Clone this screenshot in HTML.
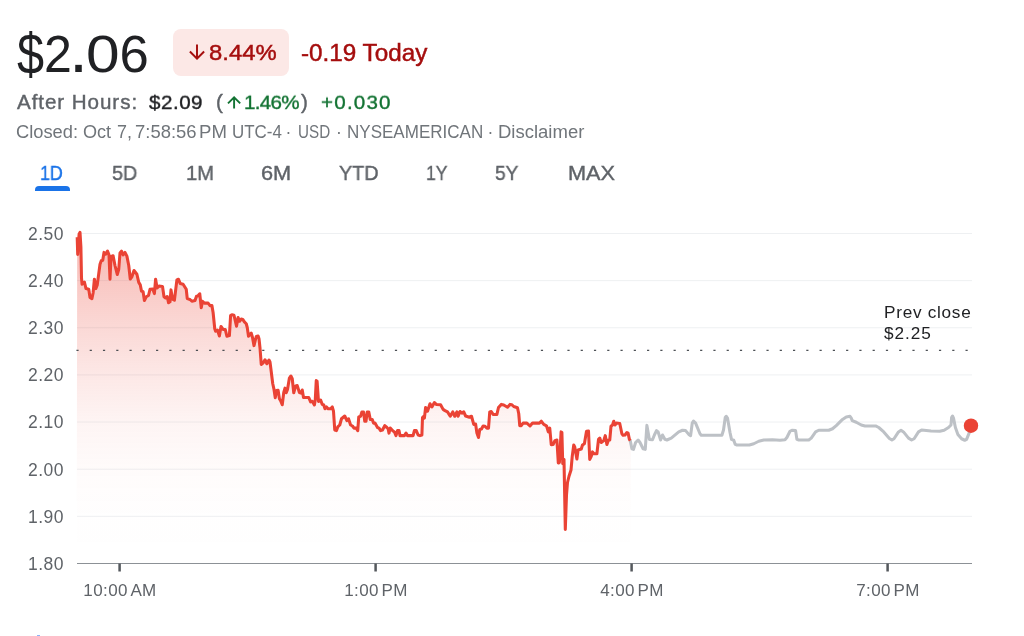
<!DOCTYPE html>
<html lang="en"><head><meta charset="utf-8"><title>Stock chart</title>
<style>
html,body{margin:0;padding:0;background:#fff;}
body{width:1024px;height:636px;overflow:hidden;position:relative;font-family:"Liberation Sans",sans-serif;color:#202124;}
.a{position:absolute;white-space:nowrap;line-height:1;}
.a,.yl,.xl{will-change:transform;}
#price{left:0;top:28.2px;font-size:52.7px;color:#202124;width:160px;height:53px;}
#price span{display:inline-block;}
#pill{left:173px;top:29px;width:116px;height:47px;border-radius:8px;background:#fce8e6;}
#pct{left:209.2px;top:42.3px;font-size:22.5px;color:#a50e0e;-webkit-text-stroke:0.45px #a50e0e;transform:scaleX(1.06);transform-origin:0 0;}
#chg{left:301.3px;top:41.8px;font-size:23px;color:#a50e0e;-webkit-text-stroke:0.45px #a50e0e;transform:scaleX(1.055);transform-origin:0 0;}
.l2{top:91.8px;font-size:20.6px;-webkit-text-stroke:0.4px;}
#ah{left:17px;color:#5f6368;letter-spacing:0.93px;}
#ahp{left:149.3px;color:#202124;letter-spacing:0.5px;}
#ahp,#ahpct,#ahchg{transform:scaleY(0.95);transform-origin:0 17.4px;}
#lp{left:216px;color:#5f6368;}
#ahpct{left:243.8px;color:#137333;letter-spacing:-0.7px;}
#rp{left:301px;color:#5f6368;}
#ahchg{left:320.5px;color:#137333;letter-spacing:1.2px;}
#l3{left:0;top:124.1px;font-size:17.5px;color:#70757a;width:600px;height:18px;}
#l3 span{display:inline-block;}
.tab{top:162.7px;font-size:20.4px;color:#5f6368;-webkit-text-stroke:0.4px;transform-origin:0 0;}
#ul{left:34.5px;top:186px;width:35px;height:4.5px;background:#1a73e8;border-radius:4px 4px 0 0;}
.yl{position:absolute;left:27.5px;width:40px;font-size:17.5px;line-height:20px;color:#5f6368;letter-spacing:0.5px;white-space:nowrap;}
.xl{position:absolute;top:581.2px;width:120px;text-align:center;font-size:17px;line-height:20px;color:#5f6368;white-space:nowrap;letter-spacing:0.4px;}
#pc{left:884.2px;top:301.9px;font-size:17.2px;line-height:21.2px;color:#202124;letter-spacing:0.72px;}
#pc span{letter-spacing:0.95px;}
svg{position:absolute;left:0;top:0;z-index:1;}
.a,.yl,.xl{z-index:2;}
#pill{z-index:0;}
</style></head><body>
<div class="a" id="price"><span style="margin-left:16.7px;transform:scale(0.923,1.09);transform-origin:0 27px">$</span><span style="margin-left:-1.56px;transform:scaleX(0.95);transform-origin:0 27px">2</span><span style="margin-left:-4.76px;transform:scale(1.3,1.25);transform-origin:0 44.5px">.</span><span style="margin-left:2.26px;transform:scaleX(1.146);transform-origin:0 27px">0</span><span style="margin-left:4.19px;">6</span></div>
<div class="a" id="pill"></div>
<div class="a" id="pct">8.44%</div>
<div class="a" id="chg">-0.19 Today</div>
<div class="a l2" id="ah">After Hours:</div>
<div class="a l2" id="ahp">$2.09</div>
<div class="a l2" id="lp">(</div>
<div class="a l2" id="ahpct">1.46%</div>
<div class="a l2" id="rp">)</div>
<div class="a l2" id="ahchg">+0.030</div>
<div class="a" id="l3"><span style="margin-left:16.25px;transform:scaleX(1.046);transform-origin:0 0">Closed:</span> <span style="margin-left:2.83px;transform:scaleX(1.033);transform-origin:0 0">Oct</span> <span style="margin-left:1.47px;transform:scaleX(1.025);transform-origin:0 0">7,</span> <span style="margin-left:-1.31px;transform:scaleX(1.054);transform-origin:0 0">7:58:56</span> <span style="margin-left:0.62px;transform:scaleX(1.062);transform-origin:0 0">PM</span> <span style="margin-left:1.87px;transform:scaleX(0.968);transform-origin:0 0">UTC-4</span> <span style="margin-left:-2.74px;transform:scaleX(1.0);transform-origin:0 0">·</span> <span style="margin-left:1.73px;transform:scaleX(0.869);transform-origin:0 0">USD</span> <span style="margin-left:-3.86px;transform:scaleX(1.0);transform-origin:0 0">·</span> <span style="margin-left:-0.17px;transform:scaleX(0.973);transform-origin:0 0">NYSEAMERICAN</span> <span style="margin-left:-3.84px;transform:scaleX(1.0);transform-origin:0 0">·</span> <span style="margin-left:0.04px;transform:scaleX(1.057);transform-origin:0 0">Disclaimer</span></div>
<div class="a tab" style="left:39.92px;transform:scaleX(0.876);color:#1a73e8">1D</div>
<div class="a tab" style="left:111.8px;transform:scaleX(0.973);">5D</div>
<div class="a tab" style="left:185.71px;transform:scaleX(0.992);">1M</div>
<div class="a tab" style="left:261.2px;transform:scaleX(1.067);">6M</div>
<div class="a tab" style="left:338.9px;transform:scaleX(0.973);">YTD</div>
<div class="a tab" style="left:426.14px;transform:scaleX(0.862);">1Y</div>
<div class="a tab" style="left:495.3px;transform:scaleX(0.938);">5Y</div>
<div class="a tab" style="left:567.69px;transform:scaleX(1.064);">MAX</div>
<div class="a" id="ul"></div>
<div class="yl" style="top:223.90px">2.50</div>
<div class="yl" style="top:271.04px">2.40</div>
<div class="yl" style="top:318.18px">2.30</div>
<div class="yl" style="top:365.32px">2.20</div>
<div class="yl" style="top:412.46px">2.10</div>
<div class="yl" style="top:459.60px">2.00</div>
<div class="yl" style="top:506.74px">1.90</div>
<div class="yl" style="top:553.88px">1.80</div>

<div class="xl" style="left:59.60px">10:00 <span style="margin-left:-1.3px">AM</span></div>
<div class="xl" style="left:315.60px">1:00 <span style="margin-left:-1.3px">PM</span></div>
<div class="xl" style="left:571.60px">4:00 <span style="margin-left:-1.3px">PM</span></div>
<div class="xl" style="left:827.60px">7:00 <span style="margin-left:-1.3px">PM</span></div>

<div class="a" id="pc">Prev close<br><span>$2.25</span></div>
<svg width="1024" height="636" viewBox="0 0 1024 636">
<defs><linearGradient id="g" gradientUnits="userSpaceOnUse" x1="0" y1="232.4" x2="0" y2="563.5">
<stop offset="0" stop-color="#ea4335" stop-opacity="0.38"/>
<stop offset="0.13" stop-color="#ea4335" stop-opacity="0.305"/>
<stop offset="0.277" stop-color="#ea4335" stop-opacity="0.21"/>
<stop offset="0.421" stop-color="#ea4335" stop-opacity="0.128"/>
<stop offset="0.573" stop-color="#ea4335" stop-opacity="0.056"/>
<stop offset="0.732" stop-color="#ea4335" stop-opacity="0.018"/>
<stop offset="0.866" stop-color="#ea4335" stop-opacity="0.004"/>
<stop offset="1" stop-color="#ea4335" stop-opacity="0"/>
</linearGradient></defs>
<line x1="77" x2="972" y1="233.50" y2="233.50" stroke="#eef0f2" stroke-width="1"/>
<line x1="77" x2="972" y1="280.64" y2="280.64" stroke="#eef0f2" stroke-width="1"/>
<line x1="77" x2="972" y1="327.78" y2="327.78" stroke="#eef0f2" stroke-width="1"/>
<line x1="77" x2="972" y1="374.92" y2="374.92" stroke="#eef0f2" stroke-width="1"/>
<line x1="77" x2="972" y1="422.06" y2="422.06" stroke="#eef0f2" stroke-width="1"/>
<line x1="77" x2="972" y1="469.20" y2="469.20" stroke="#eef0f2" stroke-width="1"/>
<line x1="77" x2="972" y1="516.34" y2="516.34" stroke="#eef0f2" stroke-width="1"/>

<path d="M77.20,237.20 L77.70,254.40 L79.10,234.20 L80.00,232.30 L80.90,246.75 L81.50,278.00 L82.10,284.25 L84.40,282.00 L86.00,288.60 L88.75,289.25 L90.00,297.40 L91.90,298.60 L93.10,293.00 L94.40,279.25 L95.90,288.60 L97.25,284.90 L100.00,264.25 L101.25,260.75 L102.75,260.25 L104.00,252.40 L105.60,254.25 L107.50,251.10 L109.00,254.90 L110.00,279.25 L111.00,256.75 L113.10,255.75 L115.00,265.50 L117.25,274.50 L118.75,269.25 L120.00,253.00 L121.50,251.10 L123.10,254.90 L125.00,252.40 L126.90,256.10 L128.75,265.50 L130.25,279.00 L131.90,276.75 L134.00,270.50 L136.90,274.25 L138.75,282.40 L140.25,284.90 L141.50,291.10 L143.10,291.75 L144.40,300.50 L146.25,296.75 L148.50,295.50 L150.00,289.25 L152.75,289.00 L154.40,293.60 L155.60,279.25 L157.10,288.00 L159.00,286.10 L162.50,286.40 L164.00,296.75 L165.60,298.00 L167.25,296.50 L168.50,302.75 L170.00,301.75 L171.00,289.90 L172.50,299.25 L174.40,300.25 L176.90,279.90 L178.50,279.25 L180.25,283.60 L183.10,284.25 L186.25,289.25 L187.25,298.60 L190.00,299.50 L191.90,301.25 L195.00,300.60 L196.50,296.25 L197.75,296.00 L199.75,293.75 L201.25,307.75 L202.50,301.25 L204.40,303.10 L208.10,303.10 L210.00,305.60 L211.90,305.60 L213.10,312.50 L214.75,328.75 L215.60,331.25 L217.50,330.00 L219.40,336.00 L221.00,326.50 L223.10,329.40 L225.25,329.40 L226.90,336.25 L229.40,335.60 L230.60,315.60 L231.90,314.75 L234.00,315.25 L236.50,326.25 L238.10,317.50 L239.60,321.25 L241.25,319.00 L242.75,319.40 L244.40,321.90 L246.25,323.75 L247.25,327.50 L248.50,336.25 L251.25,333.10 L252.50,337.50 L254.00,345.60 L256.25,336.50 L258.10,336.00 L259.00,338.75 L260.00,348.00 L261.25,364.40 L263.10,363.10 L265.00,359.75 L266.90,363.75 L269.00,360.00 L270.00,361.90 L271.50,373.75 L272.75,383.75 L274.00,389.40 L275.25,397.75 L276.50,390.60 L278.10,390.25 L279.40,398.75 L280.60,400.60 L282.25,404.75 L283.75,392.50 L285.00,388.10 L286.25,392.75 L287.50,389.40 L289.40,378.10 L290.90,376.00 L292.25,378.75 L293.75,392.75 L295.60,386.00 L297.25,385.60 L299.40,392.50 L301.00,393.10 L302.25,390.00 L303.50,397.50 L308.75,397.50 L310.60,401.90 L312.25,401.25 L314.40,405.00 L315.25,400.00 L316.25,380.60 L317.10,381.25 L318.50,401.50 L320.60,400.00 L322.25,404.40 L323.75,405.00 L325.00,408.75 L326.50,406.90 L328.10,408.75 L330.60,408.75 L332.25,406.90 L333.50,411.25 L334.75,430.00 L336.50,430.60 L337.75,426.90 L339.75,425.00 L341.50,418.75 L344.75,416.00 L346.90,420.60 L348.50,418.75 L350.60,425.00 L352.50,426.00 L354.00,428.10 L356.25,428.10 L357.75,430.60 L358.75,416.90 L360.60,416.25 L361.90,411.90 L363.50,411.90 L364.75,421.25 L366.00,421.25 L367.25,411.90 L368.75,411.90 L370.25,419.40 L372.25,419.40 L373.50,423.10 L375.00,423.10 L377.50,427.50 L379.00,428.10 L380.60,430.60 L382.50,430.00 L384.75,425.60 L386.90,427.50 L388.10,428.75 L389.00,433.10 L390.25,428.10 L392.50,430.60 L394.40,431.90 L396.00,435.60 L397.50,430.60 L399.00,430.60 L400.00,435.60 L404.40,435.60 L406.00,433.10 L407.50,435.60 L413.10,435.60 L414.40,430.60 L416.25,430.60 L418.10,435.00 L420.00,435.60 L421.90,435.00 L422.50,417.50 L423.75,416.25 L424.40,418.10 L425.60,407.50 L427.50,411.25 L430.00,403.75 L431.90,406.90 L434.40,402.50 L436.25,404.40 L440.60,404.75 L443.10,409.40 L445.00,410.60 L447.50,411.90 L450.25,416.25 L452.75,411.90 L454.75,416.25 L456.90,411.90 L458.10,416.25 L460.00,411.50 L461.90,413.10 L463.75,411.90 L465.60,416.00 L469.40,417.25 L471.50,416.25 L473.75,424.40 L475.60,424.00 L476.90,433.10 L478.50,437.50 L479.75,429.40 L481.50,429.00 L483.10,426.00 L485.00,426.25 L486.90,428.10 L488.50,428.10 L489.75,411.90 L491.25,411.50 L493.10,414.40 L496.90,414.40 L498.50,407.50 L501.25,404.40 L503.75,405.00 L507.50,407.25 L510.00,404.40 L511.90,404.75 L513.75,406.50 L517.50,407.75 L518.75,413.75 L519.75,425.60 L521.25,425.60 L523.10,423.10 L526.90,423.10 L530.00,426.00 L532.50,423.10 L539.40,423.10 L541.25,421.20 L543.75,424.40 L546.50,425.80 L548.30,431.90 L549.75,428.10 L551.25,444.70 L553.10,444.50 L554.90,440.60 L556.90,440.00 L558.30,463.00 L559.40,462.50 L561.10,431.90 L561.90,432.50 L562.75,463.75 L564.00,459.40 L565.30,529.50 L566.50,495.00 L567.50,482.50 L569.00,476.25 L571.00,470.00 L572.25,456.25 L573.75,445.00 L574.75,446.90 L576.90,459.00 L578.10,450.00 L581.25,449.00 L582.50,445.00 L584.40,443.75 L586.50,431.25 L588.50,431.00 L589.75,459.40 L591.25,456.25 L592.50,451.90 L594.00,453.75 L596.90,453.75 L598.50,439.40 L599.75,438.10 L601.25,442.50 L603.75,440.60 L605.25,435.60 L606.90,444.40 L608.50,440.00 L609.75,440.00 L611.00,426.25 L612.50,425.00 L613.75,421.25 L615.00,425.00 L616.50,423.10 L619.75,423.50 L621.90,433.75 L623.10,435.25 L625.00,435.00 L626.90,432.50 L628.10,433.10 L629.40,439.40 L630.25,440.60 L630.8,441.5 L630.8,563.5 L76.70,563.5 Z" fill="url(#g)" stroke="none"/>
<line x1="77" x2="972" y1="563.5" y2="563.5" stroke="#8c9196" stroke-width="1.2"/>
<rect x="118.35" y="563.5" width="2.5" height="8" fill="#54585d"/>
<rect x="374.35" y="563.5" width="2.5" height="8" fill="#54585d"/>
<rect x="630.35" y="563.5" width="2.5" height="8" fill="#54585d"/>
<rect x="886.35" y="563.5" width="2.5" height="8" fill="#54585d"/>

<rect x="76.41" y="349.75" width="2.2" height="1.2" fill="#45494e"/><rect x="89.68" y="349.75" width="2.2" height="1.2" fill="#45494e"/><rect x="102.95" y="349.75" width="2.2" height="1.2" fill="#45494e"/><rect x="116.22" y="349.75" width="2.2" height="1.2" fill="#45494e"/><rect x="129.49" y="349.75" width="2.2" height="1.2" fill="#45494e"/><rect x="142.76" y="349.75" width="2.2" height="1.2" fill="#45494e"/><rect x="156.03" y="349.75" width="2.2" height="1.2" fill="#45494e"/><rect x="169.30" y="349.75" width="2.2" height="1.2" fill="#45494e"/><rect x="182.57" y="349.75" width="2.2" height="1.2" fill="#45494e"/><rect x="195.84" y="349.75" width="2.2" height="1.2" fill="#45494e"/><rect x="209.11" y="349.75" width="2.2" height="1.2" fill="#45494e"/><rect x="222.38" y="349.75" width="2.2" height="1.2" fill="#45494e"/><rect x="235.65" y="349.75" width="2.2" height="1.2" fill="#45494e"/><rect x="248.92" y="349.75" width="2.2" height="1.2" fill="#45494e"/><rect x="262.19" y="349.75" width="2.2" height="1.2" fill="#45494e"/><rect x="275.46" y="349.75" width="2.2" height="1.2" fill="#45494e"/><rect x="288.73" y="349.75" width="2.2" height="1.2" fill="#45494e"/><rect x="302.00" y="349.75" width="2.2" height="1.2" fill="#45494e"/><rect x="315.27" y="349.75" width="2.2" height="1.2" fill="#45494e"/><rect x="328.54" y="349.75" width="2.2" height="1.2" fill="#45494e"/><rect x="341.81" y="349.75" width="2.2" height="1.2" fill="#45494e"/><rect x="355.08" y="349.75" width="2.2" height="1.2" fill="#45494e"/><rect x="368.35" y="349.75" width="2.2" height="1.2" fill="#45494e"/><rect x="381.62" y="349.75" width="2.2" height="1.2" fill="#45494e"/><rect x="394.89" y="349.75" width="2.2" height="1.2" fill="#45494e"/><rect x="408.16" y="349.75" width="2.2" height="1.2" fill="#45494e"/><rect x="421.43" y="349.75" width="2.2" height="1.2" fill="#45494e"/><rect x="434.70" y="349.75" width="2.2" height="1.2" fill="#45494e"/><rect x="447.97" y="349.75" width="2.2" height="1.2" fill="#45494e"/><rect x="461.24" y="349.75" width="2.2" height="1.2" fill="#45494e"/><rect x="474.51" y="349.75" width="2.2" height="1.2" fill="#45494e"/><rect x="487.78" y="349.75" width="2.2" height="1.2" fill="#45494e"/><rect x="501.05" y="349.75" width="2.2" height="1.2" fill="#45494e"/><rect x="514.32" y="349.75" width="2.2" height="1.2" fill="#45494e"/><rect x="527.59" y="349.75" width="2.2" height="1.2" fill="#45494e"/><rect x="540.86" y="349.75" width="2.2" height="1.2" fill="#45494e"/><rect x="554.13" y="349.75" width="2.2" height="1.2" fill="#45494e"/><rect x="567.40" y="349.75" width="2.2" height="1.2" fill="#45494e"/><rect x="580.67" y="349.75" width="2.2" height="1.2" fill="#45494e"/><rect x="593.94" y="349.75" width="2.2" height="1.2" fill="#45494e"/><rect x="607.21" y="349.75" width="2.2" height="1.2" fill="#45494e"/><rect x="620.48" y="349.75" width="2.2" height="1.2" fill="#45494e"/><rect x="633.75" y="349.75" width="2.2" height="1.2" fill="#45494e"/><rect x="647.02" y="349.75" width="2.2" height="1.2" fill="#45494e"/><rect x="660.29" y="349.75" width="2.2" height="1.2" fill="#45494e"/><rect x="673.56" y="349.75" width="2.2" height="1.2" fill="#45494e"/><rect x="686.83" y="349.75" width="2.2" height="1.2" fill="#45494e"/><rect x="700.10" y="349.75" width="2.2" height="1.2" fill="#45494e"/><rect x="713.37" y="349.75" width="2.2" height="1.2" fill="#45494e"/><rect x="726.64" y="349.75" width="2.2" height="1.2" fill="#45494e"/><rect x="739.91" y="349.75" width="2.2" height="1.2" fill="#45494e"/><rect x="753.18" y="349.75" width="2.2" height="1.2" fill="#45494e"/><rect x="766.45" y="349.75" width="2.2" height="1.2" fill="#45494e"/><rect x="779.72" y="349.75" width="2.2" height="1.2" fill="#45494e"/><rect x="792.99" y="349.75" width="2.2" height="1.2" fill="#45494e"/><rect x="806.26" y="349.75" width="2.2" height="1.2" fill="#45494e"/><rect x="819.53" y="349.75" width="2.2" height="1.2" fill="#45494e"/><rect x="832.80" y="349.75" width="2.2" height="1.2" fill="#45494e"/><rect x="846.07" y="349.75" width="2.2" height="1.2" fill="#45494e"/><rect x="859.34" y="349.75" width="2.2" height="1.2" fill="#45494e"/><rect x="872.61" y="349.75" width="2.2" height="1.2" fill="#45494e"/><rect x="885.88" y="349.75" width="2.2" height="1.2" fill="#45494e"/><rect x="899.15" y="349.75" width="2.2" height="1.2" fill="#45494e"/><rect x="912.42" y="349.75" width="2.2" height="1.2" fill="#45494e"/><rect x="925.69" y="349.75" width="2.2" height="1.2" fill="#45494e"/><rect x="938.96" y="349.75" width="2.2" height="1.2" fill="#45494e"/><rect x="952.23" y="349.75" width="2.2" height="1.2" fill="#45494e"/><rect x="965.50" y="349.75" width="2.2" height="1.2" fill="#45494e"/>
<path d="M630.25,440.60 L631.90,448.75 L633.50,449.40 L635.60,442.50 L638.10,440.00 L640.00,442.50 L643.10,448.75 L645.25,449.40 L646.90,425.40 L649.40,439.40 L652.50,439.75 L654.40,435.00 L656.50,430.60 L658.10,431.90 L660.60,440.00 L662.50,435.00 L665.00,439.40 L666.90,440.00 L671.25,438.10 L678.75,431.90 L682.50,430.25 L685.60,430.60 L688.75,434.40 L690.60,435.60 L692.25,423.10 L693.50,421.00 L695.60,423.10 L700.00,433.75 L701.25,435.25 L721.90,435.25 L723.50,430.00 L725.25,417.50 L726.25,416.25 L727.50,418.10 L730.00,432.50 L731.50,439.40 L733.75,440.25 L735.25,444.40 L736.90,445.00 L749.40,445.00 L753.75,443.75 L758.75,441.25 L763.75,440.00 L772.50,439.75 L780.00,440.25 L785.00,439.75 L786.90,437.50 L790.00,431.25 L791.90,430.25 L795.60,430.60 L796.90,439.40 L798.75,440.00 L808.75,440.00 L811.25,438.10 L815.60,431.90 L818.75,430.25 L828.75,430.25 L832.50,428.75 L836.25,425.60 L842.50,419.40 L846.25,416.90 L850.00,416.25 L851.25,418.10 L852.25,420.60 L856.25,422.25 L861.25,425.00 L865.00,425.90 L875.60,425.90 L878.75,427.50 L883.75,431.90 L889.40,438.50 L891.90,440.00 L894.00,438.75 L898.50,431.90 L901.00,430.25 L903.50,431.90 L908.50,438.10 L911.60,440.00 L914.10,438.75 L918.50,431.90 L921.60,430.00 L931.00,431.00 L939.75,431.25 L944.10,430.25 L948.50,427.50 L951.00,425.00 L951.60,417.50 L952.50,416.00 L953.50,418.10 L955.40,427.50 L957.90,434.40 L961.60,438.75 L964.75,440.25 L966.60,439.40 L969.10,433.10 L971.00,426.25" fill="none" stroke="#bdc1c6" stroke-width="3.05" stroke-linejoin="round" stroke-linecap="round"/>
<path d="M77.20,237.20 L77.70,254.40 L79.10,234.20 L80.00,232.30 L80.90,246.75 L81.50,278.00 L82.10,284.25 L84.40,282.00 L86.00,288.60 L88.75,289.25 L90.00,297.40 L91.90,298.60 L93.10,293.00 L94.40,279.25 L95.90,288.60 L97.25,284.90 L100.00,264.25 L101.25,260.75 L102.75,260.25 L104.00,252.40 L105.60,254.25 L107.50,251.10 L109.00,254.90 L110.00,279.25 L111.00,256.75 L113.10,255.75 L115.00,265.50 L117.25,274.50 L118.75,269.25 L120.00,253.00 L121.50,251.10 L123.10,254.90 L125.00,252.40 L126.90,256.10 L128.75,265.50 L130.25,279.00 L131.90,276.75 L134.00,270.50 L136.90,274.25 L138.75,282.40 L140.25,284.90 L141.50,291.10 L143.10,291.75 L144.40,300.50 L146.25,296.75 L148.50,295.50 L150.00,289.25 L152.75,289.00 L154.40,293.60 L155.60,279.25 L157.10,288.00 L159.00,286.10 L162.50,286.40 L164.00,296.75 L165.60,298.00 L167.25,296.50 L168.50,302.75 L170.00,301.75 L171.00,289.90 L172.50,299.25 L174.40,300.25 L176.90,279.90 L178.50,279.25 L180.25,283.60 L183.10,284.25 L186.25,289.25 L187.25,298.60 L190.00,299.50 L191.90,301.25 L195.00,300.60 L196.50,296.25 L197.75,296.00 L199.75,293.75 L201.25,307.75 L202.50,301.25 L204.40,303.10 L208.10,303.10 L210.00,305.60 L211.90,305.60 L213.10,312.50 L214.75,328.75 L215.60,331.25 L217.50,330.00 L219.40,336.00 L221.00,326.50 L223.10,329.40 L225.25,329.40 L226.90,336.25 L229.40,335.60 L230.60,315.60 L231.90,314.75 L234.00,315.25 L236.50,326.25 L238.10,317.50 L239.60,321.25 L241.25,319.00 L242.75,319.40 L244.40,321.90 L246.25,323.75 L247.25,327.50 L248.50,336.25 L251.25,333.10 L252.50,337.50 L254.00,345.60 L256.25,336.50 L258.10,336.00 L259.00,338.75 L260.00,348.00 L261.25,364.40 L263.10,363.10 L265.00,359.75 L266.90,363.75 L269.00,360.00 L270.00,361.90 L271.50,373.75 L272.75,383.75 L274.00,389.40 L275.25,397.75 L276.50,390.60 L278.10,390.25 L279.40,398.75 L280.60,400.60 L282.25,404.75 L283.75,392.50 L285.00,388.10 L286.25,392.75 L287.50,389.40 L289.40,378.10 L290.90,376.00 L292.25,378.75 L293.75,392.75 L295.60,386.00 L297.25,385.60 L299.40,392.50 L301.00,393.10 L302.25,390.00 L303.50,397.50 L308.75,397.50 L310.60,401.90 L312.25,401.25 L314.40,405.00 L315.25,400.00 L316.25,380.60 L317.10,381.25 L318.50,401.50 L320.60,400.00 L322.25,404.40 L323.75,405.00 L325.00,408.75 L326.50,406.90 L328.10,408.75 L330.60,408.75 L332.25,406.90 L333.50,411.25 L334.75,430.00 L336.50,430.60 L337.75,426.90 L339.75,425.00 L341.50,418.75 L344.75,416.00 L346.90,420.60 L348.50,418.75 L350.60,425.00 L352.50,426.00 L354.00,428.10 L356.25,428.10 L357.75,430.60 L358.75,416.90 L360.60,416.25 L361.90,411.90 L363.50,411.90 L364.75,421.25 L366.00,421.25 L367.25,411.90 L368.75,411.90 L370.25,419.40 L372.25,419.40 L373.50,423.10 L375.00,423.10 L377.50,427.50 L379.00,428.10 L380.60,430.60 L382.50,430.00 L384.75,425.60 L386.90,427.50 L388.10,428.75 L389.00,433.10 L390.25,428.10 L392.50,430.60 L394.40,431.90 L396.00,435.60 L397.50,430.60 L399.00,430.60 L400.00,435.60 L404.40,435.60 L406.00,433.10 L407.50,435.60 L413.10,435.60 L414.40,430.60 L416.25,430.60 L418.10,435.00 L420.00,435.60 L421.90,435.00 L422.50,417.50 L423.75,416.25 L424.40,418.10 L425.60,407.50 L427.50,411.25 L430.00,403.75 L431.90,406.90 L434.40,402.50 L436.25,404.40 L440.60,404.75 L443.10,409.40 L445.00,410.60 L447.50,411.90 L450.25,416.25 L452.75,411.90 L454.75,416.25 L456.90,411.90 L458.10,416.25 L460.00,411.50 L461.90,413.10 L463.75,411.90 L465.60,416.00 L469.40,417.25 L471.50,416.25 L473.75,424.40 L475.60,424.00 L476.90,433.10 L478.50,437.50 L479.75,429.40 L481.50,429.00 L483.10,426.00 L485.00,426.25 L486.90,428.10 L488.50,428.10 L489.75,411.90 L491.25,411.50 L493.10,414.40 L496.90,414.40 L498.50,407.50 L501.25,404.40 L503.75,405.00 L507.50,407.25 L510.00,404.40 L511.90,404.75 L513.75,406.50 L517.50,407.75 L518.75,413.75 L519.75,425.60 L521.25,425.60 L523.10,423.10 L526.90,423.10 L530.00,426.00 L532.50,423.10 L539.40,423.10 L541.25,421.20 L543.75,424.40 L546.50,425.80 L548.30,431.90 L549.75,428.10 L551.25,444.70 L553.10,444.50 L554.90,440.60 L556.90,440.00 L558.30,463.00 L559.40,462.50 L561.10,431.90 L561.90,432.50 L562.75,463.75 L564.00,459.40 L565.30,529.50 L566.50,495.00 L567.50,482.50 L569.00,476.25 L571.00,470.00 L572.25,456.25 L573.75,445.00 L574.75,446.90 L576.90,459.00 L578.10,450.00 L581.25,449.00 L582.50,445.00 L584.40,443.75 L586.50,431.25 L588.50,431.00 L589.75,459.40 L591.25,456.25 L592.50,451.90 L594.00,453.75 L596.90,453.75 L598.50,439.40 L599.75,438.10 L601.25,442.50 L603.75,440.60 L605.25,435.60 L606.90,444.40 L608.50,440.00 L609.75,440.00 L611.00,426.25 L612.50,425.00 L613.75,421.25 L615.00,425.00 L616.50,423.10 L619.75,423.50 L621.90,433.75 L623.10,435.25 L625.00,435.00 L626.90,432.50 L628.10,433.10 L629.40,439.40 L630.25,440.60" fill="none" stroke="#ea4335" stroke-width="3.05" stroke-linejoin="round" stroke-linecap="butt"/>
<circle cx="971" cy="425.7" r="7.2" fill="#ea4335"/>
<!-- pill arrow down -->
<path transform="translate(185.3,40.5) scale(0.975)" d="M20 12l-1.41-1.41L13 16.17V4h-2v12.17l-5.58-5.59L4 12l8 8 8-8z" fill="#a50e0e"/>
<!-- after-hours arrow up -->
<path d="M234.1,108.6 V97.6 M228,103.4 L234.1,97.3 L240.2,103.4" fill="none" stroke="#137333" stroke-width="1.9"/>
<rect x="37" y="635" width="3" height="1" fill="#8ab4f8"/>
</svg>
</body></html>
